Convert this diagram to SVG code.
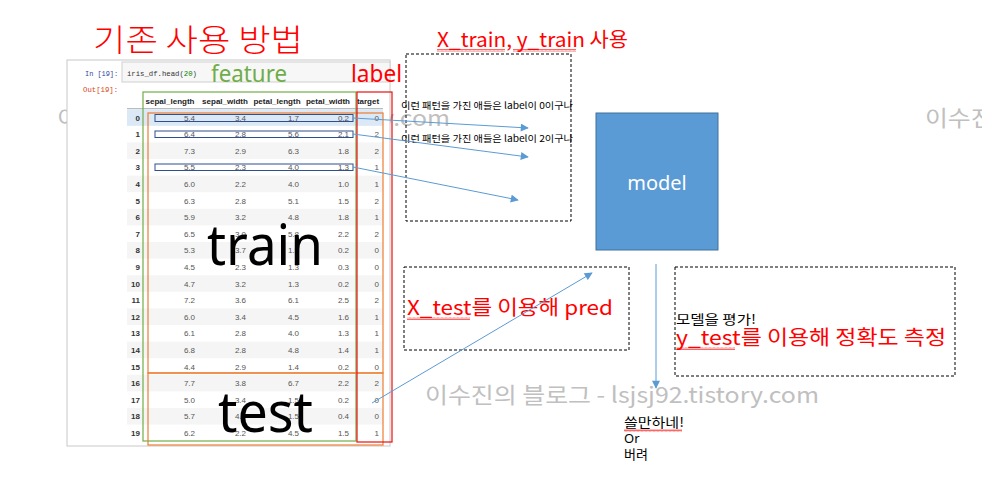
<svg xmlns="http://www.w3.org/2000/svg" width="982" height="487" viewBox="0 0 982 487">
<style>
.wm{font-family:"Noto Sans CJK KR","Noto Sans",sans-serif;font-size:22px;fill:#c0c0c0}
.ko{font-family:"Noto Sans CJK KR","Noto Sans",sans-serif}
.red{fill:#ff0000}
.num{font-family:"Liberation Sans",Arial,sans-serif;font-size:8px;fill:#555;text-anchor:end}
.idx{font-family:"Liberation Sans",Arial,sans-serif;font-size:8px;font-weight:bold;fill:#333;text-anchor:end}
.hdr{font-family:"Liberation Sans",Arial,sans-serif;font-size:8px;font-weight:bold;fill:#222;text-anchor:middle}
.shade{fill:#f5f5f5}
.brow{fill:none;stroke:#2f4f8f;stroke-width:1}
.dash{fill:none;stroke:#000;stroke-width:1;stroke-dasharray:3,2}
.conn{stroke:#5b9bd5;stroke-width:1;fill:none;marker-end:url(#ah)}
.big{font-family:"Noto Sans","Open Sans",sans-serif;fill:#000}
.mono{font-family:"Liberation Mono",monospace;font-size:8px}
</style>
<defs>
<marker id="ah" viewBox="0 0 10 10" refX="9" refY="5" markerWidth="10" markerHeight="8" markerUnits="userSpaceOnUse" orient="auto">
<path d="M0,0 L10,5 L0,10 z" fill="#5b9bd5"/>
</marker>
<pattern id="wave" x="0" y="0" width="4" height="3" patternUnits="userSpaceOnUse">
<path d="M0,2.5 L1,0.5 L2,2.5 L3,0.5 L4,2.5" fill="none" stroke="#ff0000" stroke-width="0.6"/>
</pattern>
</defs>
<rect width="982" height="487" fill="#ffffff"/>

<g id="watermarks">
<text class="wm" x="57" y="126" textLength="393" lengthAdjust="spacingAndGlyphs">이수진의 블로그 - lsjsj92.tistory.com</text>
<text class="wm" x="925" y="126" textLength="393" lengthAdjust="spacingAndGlyphs">이수진의 블로그 - lsjsj92.tistory.com</text>
<text class="wm" x="425" y="403" textLength="394" lengthAdjust="spacingAndGlyphs">이수진의 블로그 - lsjsj92.tistory.com</text>
</g>

<g id="title">
<text class="ko red" x="93" y="51" font-size="31" font-weight="300" textLength="210" lengthAdjust="spacingAndGlyphs">기존 사용 방법</text>
</g>

<g id="screenshot">
<rect x="67" y="60" width="323" height="386" fill="#ffffff" stroke="#c8c8c8" stroke-width="1"/>
<rect x="122" y="62" width="268" height="20" fill="#f7f7f7" stroke="#cfcfcf" stroke-width="1"/>
<text class="mono" x="85" y="76" fill="#303f9f" textLength="33" lengthAdjust="spacingAndGlyphs">In [19]:</text>
<text class="mono" x="127" y="76" fill="#333" textLength="70" lengthAdjust="spacingAndGlyphs">iris_df.head(<tspan fill="#008000">20</tspan>)</text>
<text class="mono" x="83" y="92" fill="#d84315" textLength="35" lengthAdjust="spacingAndGlyphs">Out[19]:</text>
</g>

<g id="table">
<rect x="127" y="109.2" width="256" height="16.6" fill="#dbe8f5"/>
<rect class="shade" x="127" y="142.4" width="256" height="16.6"/>
<rect class="shade" x="127" y="175.6" width="256" height="16.6"/>
<rect class="shade" x="127" y="208.8" width="256" height="16.6"/>
<rect class="shade" x="127" y="242" width="256" height="16.6"/>
<rect class="shade" x="127" y="275.2" width="256" height="16.6"/>
<rect class="shade" x="127" y="308.4" width="256" height="16.6"/>
<rect class="shade" x="127" y="341.6" width="256" height="16.6"/>
<rect class="shade" x="127" y="374.8" width="256" height="16.6"/>
<rect class="shade" x="127" y="408" width="256" height="16.6"/>
<line x1="127" y1="108.5" x2="383" y2="108.5" stroke="#bbb" stroke-width="1"/>
<text class="hdr" x="170" y="103.5">sepal_length</text>
<text class="hdr" x="225" y="103.5">sepal_width</text>
<text class="hdr" x="277" y="103.5">petal_length</text>
<text class="hdr" x="328" y="103.5">petal_width</text>
<text class="hdr" x="368" y="103.5">target</text>

<text class="idx" x="140" y="120.5">0</text><text class="num" x="195" y="120.5">5.4</text><text class="num" x="246" y="120.5">3.4</text><text class="num" x="299" y="120.5">1.7</text><text class="num" x="349" y="120.5">0.2</text><text class="num" x="379" y="120.5">0</text>
<text class="idx" x="140" y="137.1">1</text><text class="num" x="195" y="137.1">6.4</text><text class="num" x="246" y="137.1">2.8</text><text class="num" x="299" y="137.1">5.6</text><text class="num" x="349" y="137.1">2.1</text><text class="num" x="379" y="137.1">2</text>
<text class="idx" x="140" y="153.7">2</text><text class="num" x="195" y="153.7">7.3</text><text class="num" x="246" y="153.7">2.9</text><text class="num" x="299" y="153.7">6.3</text><text class="num" x="349" y="153.7">1.8</text><text class="num" x="379" y="153.7">2</text>
<text class="idx" x="140" y="170.3">3</text><text class="num" x="195" y="170.3">5.5</text><text class="num" x="246" y="170.3">2.3</text><text class="num" x="299" y="170.3">4.0</text><text class="num" x="349" y="170.3">1.3</text><text class="num" x="379" y="170.3">1</text>
<text class="idx" x="140" y="186.9">4</text><text class="num" x="195" y="186.9">6.0</text><text class="num" x="246" y="186.9">2.2</text><text class="num" x="299" y="186.9">4.0</text><text class="num" x="349" y="186.9">1.0</text><text class="num" x="379" y="186.9">1</text>
<text class="idx" x="140" y="203.5">5</text><text class="num" x="195" y="203.5">6.3</text><text class="num" x="246" y="203.5">2.8</text><text class="num" x="299" y="203.5">5.1</text><text class="num" x="349" y="203.5">1.5</text><text class="num" x="379" y="203.5">2</text>
<text class="idx" x="140" y="220.1">6</text><text class="num" x="195" y="220.1">5.9</text><text class="num" x="246" y="220.1">3.2</text><text class="num" x="299" y="220.1">4.8</text><text class="num" x="349" y="220.1">1.8</text><text class="num" x="379" y="220.1">1</text>
<text class="idx" x="140" y="236.7">7</text><text class="num" x="195" y="236.7">6.5</text><text class="num" x="246" y="236.7">3.0</text><text class="num" x="299" y="236.7">5.8</text><text class="num" x="349" y="236.7">2.2</text><text class="num" x="379" y="236.7">2</text>
<text class="idx" x="140" y="253.3">8</text><text class="num" x="195" y="253.3">5.3</text><text class="num" x="246" y="253.3">3.7</text><text class="num" x="299" y="253.3">1.5</text><text class="num" x="349" y="253.3">0.2</text><text class="num" x="379" y="253.3">0</text>
<text class="idx" x="140" y="269.9">9</text><text class="num" x="195" y="269.9">4.5</text><text class="num" x="246" y="269.9">2.3</text><text class="num" x="299" y="269.9">1.3</text><text class="num" x="349" y="269.9">0.3</text><text class="num" x="379" y="269.9">0</text>
<text class="idx" x="140" y="286.5">10</text><text class="num" x="195" y="286.5">4.7</text><text class="num" x="246" y="286.5">3.2</text><text class="num" x="299" y="286.5">1.3</text><text class="num" x="349" y="286.5">0.2</text><text class="num" x="379" y="286.5">0</text>
<text class="idx" x="140" y="303.1">11</text><text class="num" x="195" y="303.1">7.2</text><text class="num" x="246" y="303.1">3.6</text><text class="num" x="299" y="303.1">6.1</text><text class="num" x="349" y="303.1">2.5</text><text class="num" x="379" y="303.1">2</text>
<text class="idx" x="140" y="319.7">12</text><text class="num" x="195" y="319.7">6.0</text><text class="num" x="246" y="319.7">3.4</text><text class="num" x="299" y="319.7">4.5</text><text class="num" x="349" y="319.7">1.6</text><text class="num" x="379" y="319.7">1</text>
<text class="idx" x="140" y="336.3">13</text><text class="num" x="195" y="336.3">6.1</text><text class="num" x="246" y="336.3">2.8</text><text class="num" x="299" y="336.3">4.0</text><text class="num" x="349" y="336.3">1.3</text><text class="num" x="379" y="336.3">1</text>
<text class="idx" x="140" y="352.9">14</text><text class="num" x="195" y="352.9">6.8</text><text class="num" x="246" y="352.9">2.8</text><text class="num" x="299" y="352.9">4.8</text><text class="num" x="349" y="352.9">1.4</text><text class="num" x="379" y="352.9">1</text>
<text class="idx" x="140" y="369.5">15</text><text class="num" x="195" y="369.5">4.4</text><text class="num" x="246" y="369.5">2.9</text><text class="num" x="299" y="369.5">1.4</text><text class="num" x="349" y="369.5">0.2</text><text class="num" x="379" y="369.5">0</text>
<text class="idx" x="140" y="386.1">16</text><text class="num" x="195" y="386.1">7.7</text><text class="num" x="246" y="386.1">3.8</text><text class="num" x="299" y="386.1">6.7</text><text class="num" x="349" y="386.1">2.2</text><text class="num" x="379" y="386.1">2</text>
<text class="idx" x="140" y="402.7">17</text><text class="num" x="195" y="402.7">5.0</text><text class="num" x="246" y="402.7">3.4</text><text class="num" x="299" y="402.7">1.5</text><text class="num" x="349" y="402.7">0.2</text><text class="num" x="379" y="402.7">0</text>
<text class="idx" x="140" y="419.3">18</text><text class="num" x="195" y="419.3">5.7</text><text class="num" x="246" y="419.3">4.4</text><text class="num" x="299" y="419.3">1.5</text><text class="num" x="349" y="419.3">0.4</text><text class="num" x="379" y="419.3">0</text>
<text class="idx" x="140" y="435.9">19</text><text class="num" x="195" y="435.9">6.2</text><text class="num" x="246" y="435.9">2.2</text><text class="num" x="299" y="435.9">4.5</text><text class="num" x="349" y="435.9">1.5</text><text class="num" x="379" y="435.9">1</text>
</g>

<g id="row-highlights">
<rect class="brow" x="155" y="114.5" width="198" height="7"/>
<rect class="brow" x="155" y="131" width="198" height="6.5"/>
<rect class="brow" x="155" y="164" width="198" height="6.5"/>
</g>

<g id="feature">
<rect x="143" y="92" width="213" height="349" fill="none" stroke="#70ad47" stroke-width="1.2"/>
<text x="211" y="82" font-family="Noto Sans,Open Sans,sans-serif" font-size="24" fill="#70ad47" textLength="76" lengthAdjust="spacingAndGlyphs">feature</text>
</g>
<g id="train">
<rect x="148" y="113" width="235" height="260" fill="none" stroke="#ed7d31" stroke-width="1.2"/>
<text class="big" x="207" y="265" font-size="56" textLength="116" lengthAdjust="spacingAndGlyphs">train</text>
</g>
<g id="test">
<rect x="148" y="373" width="235" height="72" fill="none" stroke="#ed7d31" stroke-width="1.2"/>
<text class="big" x="218" y="432" font-size="56" textLength="95" lengthAdjust="spacingAndGlyphs">test</text>
</g>
<g id="label">
<rect x="357" y="92" width="35" height="350" fill="none" stroke="#e81010" stroke-width="1.2"/>
<text x="351" y="82" font-family="Noto Sans,Open Sans,sans-serif" font-size="24" fill="#ff0000" textLength="51" lengthAdjust="spacingAndGlyphs">label</text>
</g>

<g id="xtrain-box">
<rect class="dash" x="406" y="54" width="165" height="167"/>
<text class="ko red" x="437" y="47" font-size="20" textLength="191" lengthAdjust="spacingAndGlyphs">X_train, y_train 사용</text>
<rect x="437" y="49" width="68" height="3" fill="url(#wave)"/>
<rect x="513" y="49" width="63" height="3" fill="url(#wave)"/>
<text class="ko" x="401" y="109" font-size="9.5" fill="#000" textLength="172" lengthAdjust="spacingAndGlyphs">이런 패턴을 가진 애들은 label이 0이구나</text>
<text class="ko" x="401" y="142" font-size="9.5" fill="#000" textLength="172" lengthAdjust="spacingAndGlyphs">이런 패턴을 가진 애들은 label이 2이구나</text>
</g>

<g id="model">
<rect x="596" y="113" width="122" height="137" fill="#5b9bd5" stroke="#41719c" stroke-width="1"/>
<text x="657" y="190" font-family="Noto Sans,Open Sans,sans-serif" font-size="20" fill="#ffffff" text-anchor="middle">model</text>
</g>

<g id="xtest-box">
<rect class="dash" x="404" y="267" width="225" height="83"/>
<text class="ko red" x="407" y="315" font-size="20" textLength="206" lengthAdjust="spacingAndGlyphs">X_test를 이용해 pred</text>
<rect x="407" y="317" width="63" height="3" fill="url(#wave)"/>
</g>

<g id="eval-box">
<rect class="dash" x="675" y="267" width="280" height="109"/>
<text class="ko" x="676" y="324" font-size="13" fill="#000" textLength="80" lengthAdjust="spacingAndGlyphs">모델을 평가!</text>
<text class="ko red" x="676" y="345" font-size="20" textLength="270" lengthAdjust="spacingAndGlyphs">y_test를 이용해 정확도 측정</text>
<rect x="676" y="347" width="59" height="3" fill="url(#wave)"/>
</g>

<g id="result">
<text class="ko" x="624" y="427" font-size="13" fill="#000" textLength="60" lengthAdjust="spacingAndGlyphs">쓸만하네!</text>
<rect x="624" y="429" width="58" height="3" fill="url(#wave)"/>
<text x="624" y="443" font-family="Noto Sans,sans-serif" font-size="13" fill="#000">Or</text>
<text class="ko" x="624" y="459" font-size="13" fill="#000">버려</text>
</g>

<g id="connectors">
<line class="conn" x1="353" y1="118" x2="528" y2="128"/>
<line class="conn" x1="353" y1="134" x2="528" y2="157"/>
<line class="conn" x1="353" y1="167" x2="518" y2="200"/>
<line class="conn" x1="372" y1="403" x2="592" y2="273"/>
<line class="conn" x1="656" y1="264" x2="656" y2="388"/>
</g>
</svg>
